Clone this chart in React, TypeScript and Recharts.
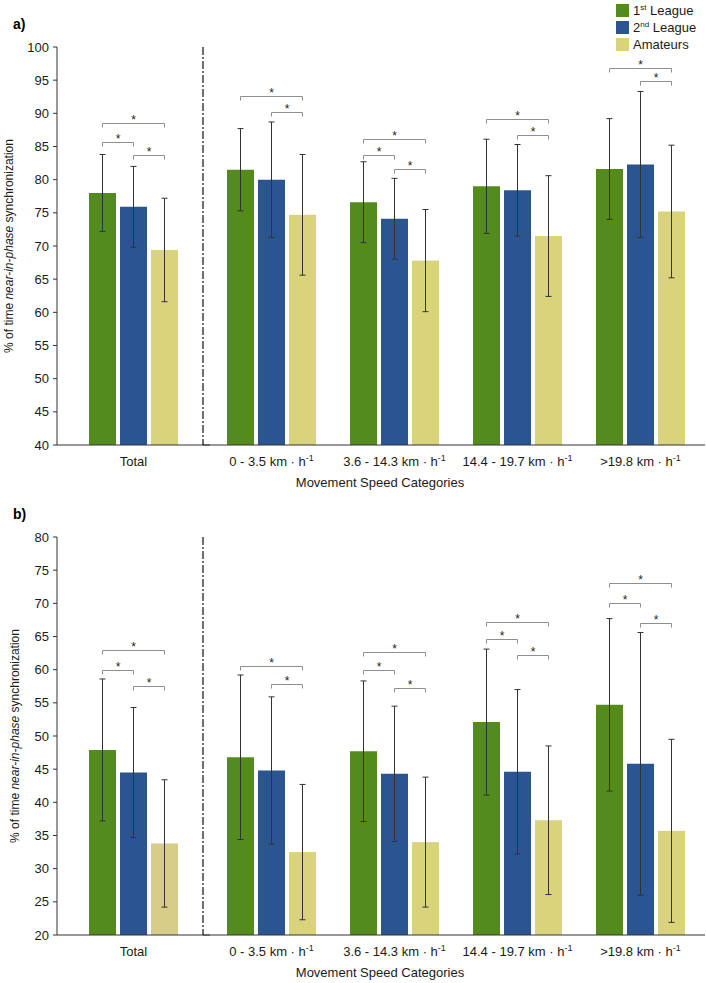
import React from 'react';
import { BarChart, Bar, XAxis, YAxis, ErrorBar, Legend } from 'recharts';

const categories = [
  'Total',
  '0 - 3.5 km · h^-1',
  '3.6 - 14.3 km · h^-1',
  '14.4 - 19.7 km · h^-1',
  '>19.8 km · h^-1',
];
const seriesNames = ['1st League', '2nd League', 'Amateurs'];
const seriesColors = ['#548b1f', '#2a5591', '#d9d37b'];

// a) means and SDs
const aFirst = [78.0, 81.5, 76.6, 79.0, 81.6];
const aFirstSd = [5.8, 6.2, 6.1, 7.1, 7.6];
const aSecond = [75.9, 80.0, 74.1, 78.4, 82.3];
const aSecondSd = [6.1, 8.7, 6.1, 6.9, 11.0];
const aAmateur = [69.4, 74.7, 67.8, 71.5, 75.2];
const aAmateurSd = [7.8, 9.1, 7.7, 9.1, 10.0];

// b) means and SDs
const bFirst = [47.9, 46.8, 47.7, 52.1, 54.7];
const bFirstSd = [10.7, 12.4, 10.6, 11.0, 13.0];
const bSecond = [44.5, 44.8, 44.3, 44.6, 45.8];
const bSecondSd = [9.8, 11.1, 10.2, 12.4, 19.8];
const bAmateur = [33.8, 32.5, 34.0, 37.3, 35.7];
const bAmateurSd = [9.6, 10.2, 9.8, 11.2, 13.8];

// significance brackets per category: [from series, to series, height]
const aBrackets = [
  [[0, 2, 88.6], [0, 1, 85.7], [1, 2, 83.7]],
  [[0, 2, 92.6], [1, 2, 90.2]],
  [[0, 2, 86.1], [0, 1, 83.7], [1, 2, 81.6]],
  [[0, 2, 89.2], [1, 2, 86.7]],
  [[0, 2, 96.8], [1, 2, 94.9]],
];
const bBrackets = [
  [[0, 2, 62.9], [0, 1, 60.0], [1, 2, 57.6]],
  [[0, 2, 60.6], [1, 2, 57.9]],
  [[0, 2, 62.7], [0, 1, 59.9], [1, 2, 57.3]],
  [[0, 2, 67.2], [0, 1, 64.6], [1, 2, 62.2]],
  [[0, 2, 73.0], [0, 1, 70.0], [1, 2, 67.1]],
];

const aTicks = [40, 45, 50, 55, 60, 65, 70, 75, 80, 85, 90, 95, 100];
const bTicks = [20, 25, 30, 35, 40, 45, 50, 55, 60, 65, 70, 75, 80];

const FONT = '"Liberation Sans", Arial, Helvetica, sans-serif';
const BAR_SIZE = 27;
const BAR_GAP = 4;
const keys = ['first', 'second', 'amateur'];

function makeRows(means: number[][], sds: number[][]) {
  return categories.map((name, idx) => ({
    name,
    idx,
    first: means[0][idx],
    firstSd: sds[0][idx],
    second: means[1][idx],
    secondSd: sds[1][idx],
    amateur: means[2][idx],
    amateurSd: sds[2][idx],
  }));
}

function CategoryTick(props: any) {
  const { x, y, payload } = props;
  const [base, sup] = String(payload.value).split('^');
  return (
    <text x={x} y={y + 21} textAnchor="middle" fontSize={13} fill="#1a1a1a" fontFamily={FONT}>
      <tspan>{base}</tspan>
      {sup && (
        <tspan dy={-5} fontSize={9}>
          {sup}
        </tspan>
      )}
    </text>
  );
}

function YAxisTitle(props: any) {
  const vb = props.viewBox || {};
  const cy = (vb.y ?? 47) + (vb.height ?? 398) / 2;
  const cx = props.cx;
  return (
    <text
      x={cx}
      y={cy}
      transform={`rotate(-90 ${cx} ${cy})`}
      textAnchor="middle"
      dominantBaseline="central"
      fontSize={12}
      fill="#1a1a1a"
      fontFamily={FONT}
    >
      {'% of time '}
      <tspan fontStyle="italic">near-in-phase</tspan>
      {' synchronization'}
    </text>
  );
}

function LegendContent(props: any) {
  const items = props.payload || [];
  return (
    <div style={{ fontFamily: FONT, fontSize: 13, color: '#1a1a1a' }}>
      {items.map((it: any, i: number) => {
        const m = /^(\d)(st|nd)(.*)$/.exec(it.value);
        return (
          <div key={i} style={{ display: 'flex', alignItems: 'center', height: 17 }}>
            <span style={{ width: 13, height: 13, background: it.color, marginRight: 4, display: 'inline-block' }} />
            {m ? (
              <span>
                {m[1]}
                <span style={{ fontSize: 8, position: 'relative', top: -5 }}>{m[2]}</span>
                {m[3]}
              </span>
            ) : (
              <span>{it.value}</span>
            )}
          </div>
        );
      })}
    </div>
  );
}

// amateur bar also carries the group's significance brackets
function makeBracketShape(brackets: number[][][], yMin: number) {
  return (props: any) => {
    const { x, y, width, height, fill, payload } = props;
    const v = payload.amateur;
    const base = y + height;
    const k = height / (v - yMin);
    const yOf = (val: number) => base - (val - yMin) * k;
    const cx = x + width / 2;
    const step = width + BAR_GAP;
    const centers = [cx - 2 * step, cx - step, cx];
    const list = brackets[payload.idx] || [];
    return (
      <g>
        <rect x={x} y={y} width={width} height={height} fill={fill} />
        {list.map(([a, b, lvl], i) => {
          const ly = Math.round(yOf(lvl)) + 0.5;
          return (
            <g key={i}>
              <path
                d={`M${centers[a]},${ly + 4}V${ly}H${centers[b]}V${ly + 4}`}
                fill="none"
                stroke="#8f8f8f"
                strokeWidth={1}
              />
              <text x={(centers[a] + centers[b]) / 2} y={ly} textAnchor="middle" fontSize={12} fill="#222" fontFamily={FONT}>
                *
              </text>
            </g>
          );
        })}
      </g>
    );
  };
}

function Panel(props: any) {
  const { top, letter, means, sds, brackets, yDomain, ticks, yLabelX, totalAmateurFill, showLegend } = props;
  const rows = makeRows(means, sds);
  const shape = makeBracketShape(brackets, yDomain[0]);
  const bars = (amateurFill: string) =>
    keys.map((k, i) => (
      <Bar
        key={k}
        dataKey={k}
        name={seriesNames[i]}
        fill={i === 2 ? amateurFill : seriesColors[i]}
        barSize={BAR_SIZE}
        isAnimationActive={false}
        shape={i === 2 ? shape : undefined}
      >
        <ErrorBar dataKey={k + 'Sd'} width={3} stroke="#333" strokeWidth={1} direction="y" />
      </Bar>
    ));

  return (
    <>
      <div style={{ position: 'absolute', left: 13, top: top + 16, fontFamily: FONT, fontWeight: 'bold', fontSize: 14 }}>
        {letter}
      </div>
      <div style={{ position: 'absolute', left: 0, top }}>
        <BarChart width={211} height={490} data={rows.slice(0, 1)} margin={{ top: 47, right: 1, bottom: 0, left: 0 }} barGap={BAR_GAP}>
          <XAxis
            dataKey="name"
            tickLine={false}
            tickSize={0}
            tickMargin={0}
            height={45}
            interval={0}
            axisLine={{ stroke: '#333' }}
            tick={<CategoryTick />}
          />
          <YAxis
            domain={yDomain}
            ticks={ticks}
            interval={0}
            width={57}
            tickSize={4}
            tickMargin={4}
            allowDataOverflow
            axisLine={{ stroke: '#333' }}
            tickLine={{ stroke: '#333' }}
            tick={{ fontSize: 13, fill: '#1a1a1a', fontFamily: FONT }}
            label={{ content: (p: any) => <YAxisTitle {...p} cx={yLabelX} /> }}
          />
          {bars(totalAmateurFill)}
        </BarChart>
      </div>
      <div style={{ position: 'absolute', left: 202, top }}>
        <BarChart width={504} height={490} data={rows.slice(1)} margin={{ top: 47, right: 1, bottom: 0, left: 0 }} barGap={BAR_GAP}>
          <XAxis
            dataKey="name"
            tickLine={false}
            tickSize={0}
            tickMargin={0}
            height={45}
            interval={0}
            padding={{ left: 7, right: 3 }}
            axisLine={{ stroke: '#333' }}
            tick={<CategoryTick />}
          />
          <YAxis
            domain={yDomain}
            ticks={ticks}
            width={1}
            tick={false}
            tickLine={false}
            allowDataOverflow
            axisLine={{ stroke: '#111', strokeWidth: 1.2, strokeDasharray: '8 2 2 2' }}
          />
          {bars(seriesColors[2])}
          {showLegend && (
            <Legend
              layout="horizontal"
              verticalAlign="middle"
              align="center"
              content={<LegendContent />}
              wrapperStyle={{ top: 2, left: 414, width: 110, height: 52 }}
            />
          )}
        </BarChart>
      </div>
      <div
        style={{
          position: 'absolute',
          left: 0,
          width: 760,
          top: top + 475,
          textAlign: 'center',
          fontFamily: FONT,
          fontSize: 13,
          color: '#1a1a1a',
        }}
      >
        Movement Speed Categories
      </div>
    </>
  );
}

export default function App() {
  return (
    <div style={{ position: 'absolute', left: 0, top: 0, width: 706, height: 983, background: '#fff', overflow: 'hidden' }}>
      <Panel
        top={0}
        letter="a)"
        means={[aFirst, aSecond, aAmateur]}
        sds={[aFirstSd, aSecondSd, aAmateurSd]}
        brackets={aBrackets}
        yDomain={[40, 100]}
        ticks={aTicks}
        yLabelX={9}
        totalAmateurFill={seriesColors[2]}
        showLegend
      />
      <Panel
        top={490}
        letter="b)"
        means={[bFirst, bSecond, bAmateur]}
        sds={[bFirstSd, bSecondSd, bAmateurSd]}
        brackets={bBrackets}
        yDomain={[20, 80]}
        ticks={bTicks}
        yLabelX={15}
        totalAmateurFill="#d8cd88"
      />
    </div>
  );
}
